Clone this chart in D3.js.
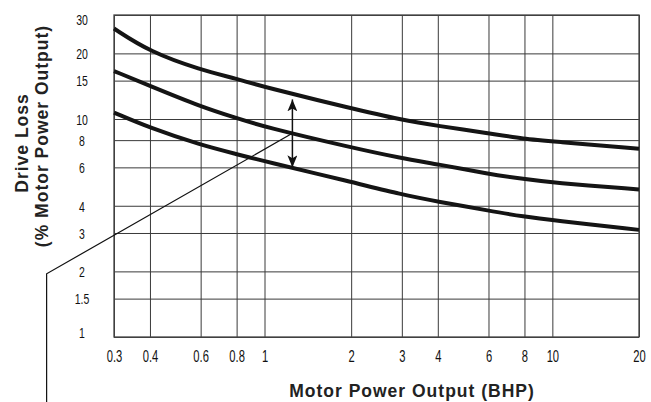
<!DOCTYPE html>
<html lang="en">
<head>
<meta charset="utf-8">
<title>Drive Loss vs Motor Power Output</title>
<script src="https://d3js.org/d3.v7.min.js"></script>
<style>
    body { margin: 0; background: #fff; }
    .tick text {
        font-family: "Liberation Sans", Arial, sans-serif;
        fill: #111;
    }
    .axis-title {
        font-family: "Liberation Sans", Arial, sans-serif;
        font-weight: bold;
        font-size: 17.5px;
        letter-spacing: 1px;
        fill: #222;
    }
    .curve { fill: none; stroke: #141414; stroke-width: 4px; }
</style>
</head>
<body>
<svg width="651" height="402"></svg>
<script>
// values
const bhpTicks = [0.3, 0.4, 0.6, 0.8, 1, 2, 3, 4, 6, 8, 10, 20];
const lossTicks = [1, 1.5, 2, 3, 4, 6, 8, 10, 15, 20, 30];

const bhp = [0.3, 0.4, 0.6, 0.8, 1, 2, 3, 4, 6, 8, 10, 20];
const upperLoss = [26, 20.3, 16.8, 15.3, 14.0, 11.2, 9.9, 9.3, 8.6, 8.1, 7.9, 7.3];
const typicalLoss = [16.6, 14.2, 11.4, 10.1, 9.2, 7.4, 6.6, 6.2, 5.6, 5.3, 5.1, 4.75];
const lowerLoss = [10.7, 9.1, 7.6, 6.9, 6.4, 5.15, 4.5, 4.18, 3.8, 3.56, 3.43, 3.1];

// range arrow and leader line (data coords)
const rangeArrow = {bhp: 1.25, from: 12.3, to: 6.0};
const leader = [[1.25, 8.6], [0.175, 1.95], [0.175, 0.49]];

const margin = {top: 15, right: 12, bottom: 65, left: 114};
const width = 651 - margin.left - margin.right;
const height = 402 - margin.top - margin.bottom;
const squeeze = 0.7; // the original tick font is a condensed face

const svg = d3.select('svg')
    .append('g')
    .attr('transform', `translate(${margin.left}, ${margin.top})`);

const x = d3.scaleLog().domain([0.3, 20]).range([0, width]);
const y = d3.scaleLog().domain([1, 30]).range([height, 0]);

// gridlines + labels
const xAxis = svg.append('g')
    .attr('transform', `translate(0, ${height})`)
    .call(d3.axisBottom(x).tickValues(bhpTicks).tickSize(-height).tickPadding(14).tickFormat(d => String(d)));
xAxis.select('.domain').remove();
xAxis.selectAll('.tick line').attr('stroke', '#3a3a3a').attr('stroke-width', 1);
xAxis.selectAll('.tick text')
    .style('font-size', '16px')
    .attr('transform', `scale(${squeeze}, 1)`);

const yAxis = svg.append('g')
    .call(d3.axisLeft(y).tickValues(lossTicks).tickSize(-width).tickFormat(d => String(d)));
yAxis.select('.domain').remove();
yAxis.selectAll('.tick line').attr('stroke', '#3a3a3a').attr('stroke-width', 1);
yAxis.selectAll('.tick text')
    .style('font-size', '15px')
    .attr('text-anchor', 'middle')
    .attr('x', -32 / squeeze)
    .attr('transform', `scale(${squeeze}, 1)`)
    .attr('dy', d => d === 30 ? '0.65em' : d === 1 ? '0.05em' : '0.35em');

// frame
svg.append('rect')
    .attr('width', width).attr('height', height)
    .attr('fill', 'none').attr('stroke', '#444').attr('stroke-width', 1.3);

// curves
const line = d3.line()
    .x(d => x(d[0]))
    .y(d => y(d[1]))
    .curve(d3.curveBasis);

[upperLoss, typicalLoss, lowerLoss].forEach(s => {
    svg.append('path')
        .attr('class', 'curve')
        .attr('d', line(bhp.map((b, i) => [b, s[i]])));
});

// leader line
svg.append('path')
    .attr('d', d3.line().x(d => x(d[0])).y(d => y(d[1]))(leader))
    .attr('fill', 'none').attr('stroke', '#111').attr('stroke-width', 1.2);

// double arrow
const defs = d3.select('svg').append('defs');
defs.append('marker')
    .attr('id', 'head')
    .attr('viewBox', '0 0 12 10')
    .attr('refX', 12).attr('refY', 5)
    .attr('markerWidth', 12).attr('markerHeight', 10)
    .attr('markerUnits', 'userSpaceOnUse')
    .attr('orient', 'auto-start-reverse')
    .append('path')
    .attr('d', 'M0,0 L12,5 L0,10 L3,5 Z')
    .attr('fill', '#111');

svg.append('line')
    .attr('x1', x(rangeArrow.bhp)).attr('x2', x(rangeArrow.bhp))
    .attr('y1', y(rangeArrow.from)).attr('y2', y(rangeArrow.to))
    .attr('stroke', '#111').attr('stroke-width', 1.5)
    .attr('marker-start', 'url(#head)')
    .attr('marker-end', 'url(#head)');

// axis titles
svg.append('text')
    .attr('class', 'axis-title')
    .attr('x', 298).attr('y', height + 60)
    .attr('text-anchor', 'middle')
    .text('Motor Power Output (BHP)');

svg.append('text')
    .attr('class', 'axis-title')
    .attr('transform', `translate(${28 - margin.left}, ${143 - margin.top}) rotate(-90)`)
    .attr('text-anchor', 'middle')
    .text('Drive Loss');

svg.append('text')
    .attr('class', 'axis-title')
    .attr('transform', `translate(${48 - margin.left}, ${136 - margin.top}) rotate(-90)`)
    .attr('text-anchor', 'middle')
    .text('(% Motor Power Output)');
</script>
</body>
</html>
